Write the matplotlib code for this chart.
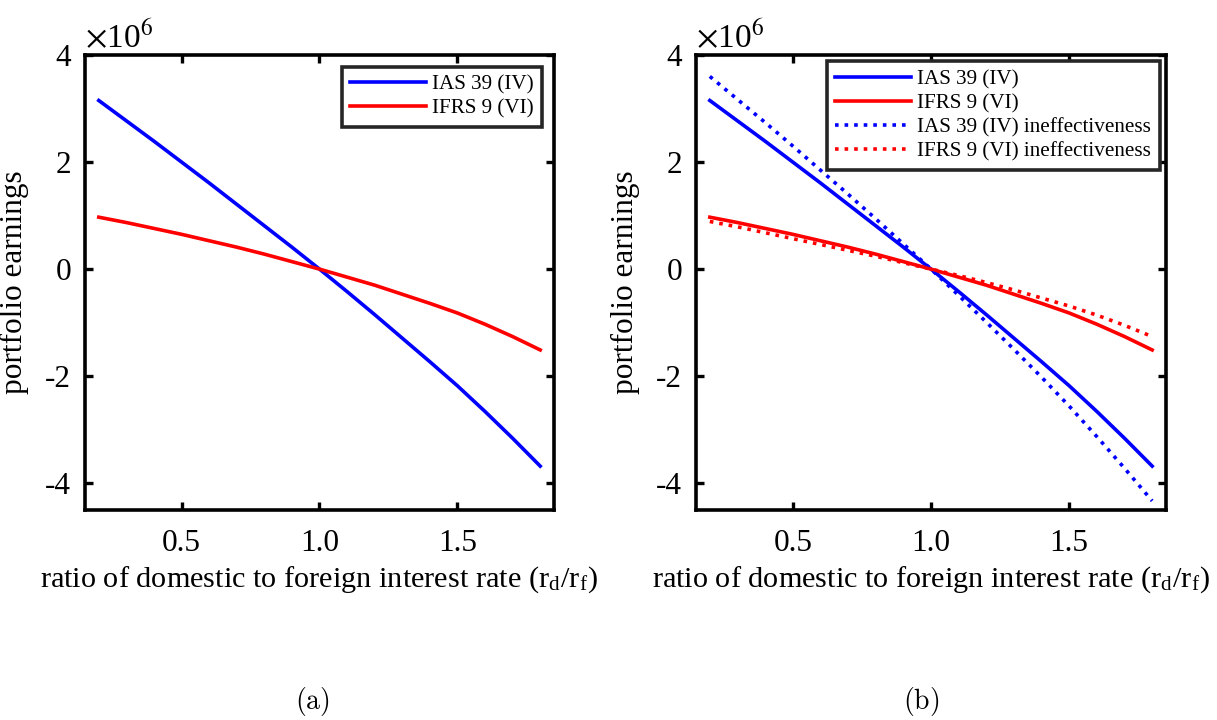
import numpy as np
import matplotlib
matplotlib.use("Agg")
import matplotlib.pyplot as plt

plt.rcParams["font.family"] = ["Liberation Serif", "DejaVu Serif"]
plt.rcParams["mathtext.fontset"] = "stix"

# 数据（单位：百万）
ratio = [0.2, 0.3, 0.4, 0.5, 0.6, 0.7, 0.8, 0.9, 1.0,
         1.1, 1.2, 1.3, 1.4, 1.5, 1.6, 1.7, 1.8]
ias39 = [3.15, 2.77, 2.39, 2.00, 1.61, 1.21, 0.81, 0.41, 0.0,
         -0.42, -0.85, -1.29, -1.73, -2.18, -2.66, -3.16, -3.68]
ifrs9 = [0.97, 0.87, 0.76, 0.65, 0.53, 0.41, 0.28, 0.14, 0.0,
         -0.15, -0.30, -0.47, -0.64, -0.82, -1.03, -1.26, -1.51]
ias39_ineff = [3.60, 3.17, 2.74, 2.30, 1.85, 1.40, 0.94, 0.47, 0.0,
               -0.49, -0.99, -1.50, -2.02, -2.56, -3.13, -3.72, -4.33]
ifrs9_ineff = [0.89, 0.79, 0.68, 0.57, 0.46, 0.35, 0.24, 0.12, 0.0,
               -0.12, -0.25, -0.39, -0.54, -0.69, -0.86, -1.05, -1.26]

xticks = [0.5, 1.0, 1.5]
xticklabels = ["0.5", "1.0", "1.5"]
yticks = [-4, -2, 0, 2, 4]
yticklabels = ["-4", "-2", "0", "2", "4"]

fig = plt.figure(figsize=(12.17, 7.2), dpi=100)
ax_a = fig.add_axes([85 / 1217, 210 / 720, 469 / 1217, 455 / 720])
ax_b = fig.add_axes([696 / 1217, 210 / 720, 470 / 1217, 455 / 720])


def style_axes(ax):
    ax.set_xlim(0.15, 1.85)
    ax.set_ylim(-4.5, 4)
    ax.set_xticks(xticks)
    ax.set_xticklabels(xticklabels)
    ax.set_yticks(yticks)
    ax.set_yticklabels(yticklabels)
    ax.tick_params(direction="in", top=True, right=True, length=6, width=2.4,
                   labelsize=22.5)
    ax.tick_params(axis="x", pad=14)
    ax.tick_params(axis="y", pad=10)
    for s in ax.spines.values():
        s.set_linewidth(2.6)
    ax.set_xlabel(r"ratio of domestic to foreign interest rate (r$_\mathregular{d}$/r$_\mathregular{f}$)",
                  fontsize=21.8, labelpad=4)
    ax.set_ylabel("portfolio earnings", fontsize=22.5)
    ax.yaxis.set_label_coords(-0.12, 0.5)
    ax.text(0.0, 1.0, r"$\times$10$^6$", transform=ax.transAxes, fontsize=24,
            ha="left", va="bottom")


def style_legend(ax, pad):
    leg = ax.legend(loc="upper right", fontsize=15.2, handlelength=3.6,
                    fancybox=False, framealpha=1, borderaxespad=pad,
                    handletextpad=0.3, labelspacing=0.2, borderpad=0.4)
    leg.get_frame().set_edgecolor("#262626")
    leg.get_frame().set_linewidth(2.6)


# (a)
ax_a.plot(ratio, ias39, color="blue", lw=2.6, label="IAS 39 (IV)")
ax_a.plot(ratio, ifrs9, color="red", lw=2.6, label="IFRS 9 (VI)")
style_axes(ax_a)
style_legend(ax_a, 0.55)

# (b)
ax_b.plot(ratio, ias39, color="blue", lw=2.6, label="IAS 39 (IV)")
ax_b.plot(ratio, ifrs9, color="red", lw=2.6, label="IFRS 9 (VI)")
ax_b.plot(ratio, ias39_ineff, color="blue", lw=2.6, ls=":", label="IAS 39 (IV) ineffectiveness")
ax_b.plot(ratio, ifrs9_ineff, color="red", lw=2.6, ls=":", label="IFRS 9 (VI) ineffectiveness")
style_axes(ax_b)
style_legend(ax_b, 0.3)

fig.text(312 / 1217, 1 - 702 / 720, r"$\mathrm{(a)}$", fontsize=20, ha="center",
         va="center", math_fontfamily="cm")
fig.text(921 / 1217, 1 - 702 / 720, r"$\mathrm{(b)}$", fontsize=20, ha="center",
         va="center", math_fontfamily="cm")

fig.savefig("out.png", dpi=100)
